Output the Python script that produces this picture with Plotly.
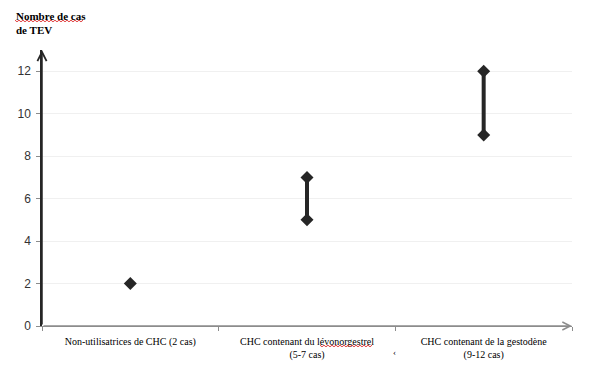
import plotly.graph_objects as go

categories = ["Non-utilisatrices de CHC (2 cas)",
              "CHC contenant du lévonorgestrel<br>(5-7 cas)",
              "CHC contenant de la gestodène<br>(9-12 cas)"]
low_values = [2, 5, 9]
high_values = [2, 7, 12]
y_ticks = [0, 2, 4, 6, 8, 10, 12]
y_title = "Nombre de cas<br>de TEV"

DARK = "#262626"
GRAY = "#8c8c8c"

# page body has an 8px default margin -> compensate
OFF = 8
W, H = 607 - OFF, 371 - OFF
L, R, T, B = 42 - OFF, 35, 50 - OFF, 45
PW, PH = W - L - R, H - T - B


def px_to_paper(x, y):
    """Screen pixel -> paper coords of the plot area."""
    return (x - OFF - L) / PW, 1 - (y - OFF - T) / PH


def squiggle(x0, x1, y):
    pts = []
    x = x0
    k = 0
    while x <= x1:
        px, py = px_to_paper(x, y + (0.8 if k % 2 else -0.8))
        pts.append(f"{px:.5f},{py:.5f}")
        x += 2
        k += 1
    return "M" + " L".join(pts)


fig = go.Figure()
for i, cat in enumerate(categories):
    ys = [low_values[i]] if low_values[i] == high_values[i] else [low_values[i], high_values[i]]
    fig.add_trace(go.Scatter(
        x=[cat] * len(ys), y=ys, mode="lines+markers",
        line=dict(color=DARK, width=4),
        marker=dict(symbol="diamond", size=10, color=DARK),
        showlegend=False, hoverinfo="skip"))

fig.update_layout(
    width=W, height=H,
    margin=dict(l=L, r=R, t=T, b=B, autoexpand=False),
    plot_bgcolor="white", paper_bgcolor="white",
    xaxis=dict(
        type="category", categoryorder="array", categoryarray=categories,
        range=[-0.5, 2.5], tickson="boundaries",
        showgrid=False, zeroline=False,
        showline=True, linecolor=GRAY, linewidth=1.3,
        ticks="outside", ticklen=4, tickcolor=GRAY, tickwidth=1,
        ticklabelstandoff=6,
        tickfont=dict(family="Liberation Serif", size=10, color="black"),
    ),
    yaxis=dict(
        range=[0, 13], tickvals=y_ticks, ticktext=[str(v) for v in y_ticks],
        showgrid=True, gridcolor="#f0f0f0", gridwidth=1,
        zeroline=False,
        showline=True, linecolor=DARK, linewidth=1.5,
        ticks="outside", ticklen=4, tickcolor=GRAY,
        ticklabelstandoff=3,
        tickfont=dict(family="Liberation Sans", size=12, color="#333333"),
    ),
)

# axis arrows
fig.add_annotation(x=-0.5, y=13, ax=-0.5, ay=0, xref="x", yref="y", axref="x", ayref="y",
                   showarrow=True, arrowhead=5, arrowsize=1.2, arrowwidth=1.5, arrowcolor=DARK, text="")
fig.add_annotation(x=2.5, y=0, ax=-0.5, ay=0, xref="x", yref="y", axref="x", ayref="y",
                   showarrow=True, arrowhead=5, arrowsize=1.2, arrowwidth=1.3, arrowcolor=GRAY, text="")

# title
tx, ty = px_to_paper(14, 8)
fig.add_annotation(x=tx, y=ty, xref="paper", yref="paper", text="<b>" + y_title + "</b>",
                   showarrow=False, xanchor="left", yanchor="top", align="left",
                   font=dict(family="Liberation Serif", size=11, color="black"))

# spell-check squiggles
for (a, b, yy) in [(15, 84, 21), (320, 372, 346)]:
    fig.add_shape(type="path", path=squiggle(a, b, yy), xref="paper", yref="paper",
                  line=dict(color="#e04040", width=1))

# stray mark
sx, sy = px_to_paper(398, 359)
fig.add_annotation(x=sx, y=sy, xref="paper", yref="paper", text="‹", showarrow=False,
                   font=dict(family="Liberation Serif", size=9, color="black"))

fig.write_html("out.html")
